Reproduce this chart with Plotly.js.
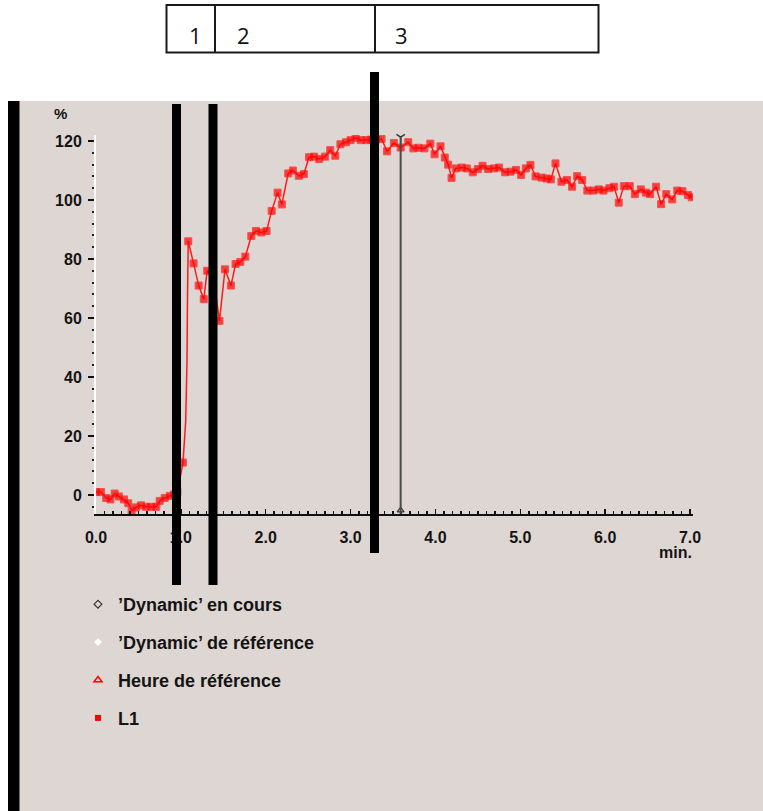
<!DOCTYPE html>
<html>
<head>
<meta charset="utf-8">
<script src="https://cdn.plot.ly/plotly-3.0.1.min.js"></script>
<style>
  html, body { margin: 0; padding: 0; background: #ffffff; }
  #chart { width: 763px; height: 811px; }
</style>
</head>
<body>
<div id="chart"></div>
<script>
// ---- data ----
const minutes = [
  0.00, 0.06, 0.12, 0.17, 0.22, 0.27, 0.33, 0.38, 0.42, 0.47,
  0.53, 0.59, 0.65, 0.71, 0.75, 0.81, 0.87, 0.92, 0.96, 1.025,
  1.057, 1.072, 1.078, 1.087, 1.15, 1.21, 1.27, 1.31, 1.38, 1.455,
  1.52, 1.59, 1.645, 1.70, 1.76, 1.83, 1.885, 1.95, 2.01, 2.07,
  2.14, 2.19, 2.265, 2.32, 2.39, 2.45, 2.51, 2.57, 2.63, 2.70,
  2.76, 2.82, 2.88, 2.945, 3.00, 3.06, 3.12, 3.19, 3.24, 3.30,
  3.365, 3.43, 3.51, 3.59, 3.68, 3.74, 3.80, 3.87, 3.94, 3.99,
  4.06, 4.11, 4.15, 4.19, 4.24, 4.31, 4.37, 4.44, 4.50, 4.555,
  4.62, 4.69, 4.75, 4.82, 4.885, 4.95, 5.01, 5.065, 5.12, 5.18,
  5.25, 5.31, 5.36, 5.415, 5.485, 5.55, 5.61, 5.67, 5.73, 5.79,
  5.86, 5.925, 5.98, 6.05, 6.105, 6.16, 6.22, 6.29, 6.35, 6.42,
  6.48, 6.53, 6.60, 6.66, 6.72, 6.79, 6.85, 6.91, 6.975, 7.02
];
const l1 = [
  1.0, 1.0, -1.0, -1.5, 0.5, -0.5, -1.5, -2.8, -5.3, -4.2,
  -3.5, -4.0, -4.0, -4.0, -2.0, -1.0, -0.3, 0.2, 1.0, 11.0,
  25.0, 45.0, 66.0, 86.0, 78.5, 71.0, 66.4, 76.0, 74.0, 59.0,
  76.5, 71.0, 78.3, 79.0, 80.8, 87.8, 89.5, 89.0, 89.5, 96.3,
  102.5, 98.5, 109.0, 110.0, 108.2, 108.8, 114.5, 114.7, 113.9, 114.7,
  116.9, 115.0, 118.9, 119.6, 120.3, 121.1, 120.3, 120.3, 120.5, 120.5,
  120.7, 116.5, 119.3, 117.8, 119.6, 117.5, 117.7, 117.5, 119.1, 115.5,
  118.2, 114.4, 112.0, 107.5, 110.7, 111.0, 110.7, 109.4, 110.5, 111.6,
  110.5, 110.7, 111.0, 109.4, 109.6, 110.2, 108.5, 110.7, 111.9, 108.0,
  107.6, 107.3, 107.0, 112.4, 106.2, 106.8, 104.5, 108.1, 106.8, 103.2,
  103.2, 103.6, 103.2, 104.0, 104.5, 99.1, 104.7, 104.7, 102.0, 103.6,
  102.5, 102.0, 104.5, 98.6, 102.0, 100.2, 103.2, 103.0, 101.7, 100.9
];
const referenceTime = [3.59];
const legendNames = ["’Dynamic’ en cours", "’Dynamic’ de référence", "Heure de référence", "L1"];
const yTickVals = [0, 20, 40, 60, 80, 100, 120];
const boxLabels = ["1", "2", "3"];

// ---- geometry helpers (pixel -> paper) ----
const W = 763, H = 811, PL = 96, PR = 693, PT = 135, PB = 514;
const px = x => (x - PL) / (PR - PL);
const py = y => (PB - y) / (PB - PT);

const red = '#ff0000';
const dark = '#141414';
const beige = '#ded6d2';
const FONT = 'Liberation Sans, Arial, sans-serif';

// marker sizes: the steep rise is drawn as bare line
const sizes = minutes.map(m => (m > 1.03 && m < 1.085) ? 0 : 7);

const traces = [
  { x: [null], y: [null], mode: 'markers', name: legendNames[0], legendgroup: 'a',
    marker: { symbol: 'diamond-open', size: 6, color: '#333333', line: { width: 1.2 } } },
  { x: [null], y: [null], mode: 'markers', name: legendNames[1], legendgroup: 'b',
    marker: { symbol: 'diamond', size: 6, color: '#ffffff' } },
  { x: [null], y: [null], mode: 'markers', name: legendNames[2], legendgroup: 'c',
    marker: { symbol: 'triangle-up-open', size: 7, color: red, line: { width: 1.5 } } },
  { x: [null], y: [null], mode: 'markers', name: legendNames[3], legendgroup: 'd',
    marker: { symbol: 'square', size: 6, color: red } },
  { x: minutes, y: l1, mode: 'lines+markers', showlegend: false, name: 'L1',
    line: { color: '#ff1a1a', width: 1.5 },
    marker: { symbol: 'square', size: sizes, color: red } },
  { x: referenceTime, y: [121.3], mode: 'markers', showlegend: false, cliponaxis: false,
    marker: { symbol: 'y-down-open', size: 7, color: '#333333', line: { width: 1.3, color: '#333333' } } },
  { x: referenceTime, y: [-5.2], mode: 'markers', showlegend: false, cliponaxis: false,
    marker: { symbol: 'triangle-up-open', size: 6, color: '#333333', line: { width: 1.2 } } }
];

const shapes = [
  // white surround
  { type: 'rect', xref: 'paper', yref: 'paper', x0: px(0), x1: px(W), y0: py(0), y1: py(101),
    fillcolor: '#ffffff', line: { width: 0 }, layer: 'below' },
  { type: 'rect', xref: 'paper', yref: 'paper', x0: px(0), x1: px(8), y0: py(0), y1: py(H),
    fillcolor: '#ffffff', line: { width: 0 }, layer: 'below' },
  // reference time line
  { type: 'line', xref: 'x', yref: 'paper', x0: referenceTime[0], x1: referenceTime[0], y0: 0, y1: py(137),
    line: { color: '#4a4a4a', width: 2 }, layer: 'above' },
  // black bars
  { type: 'rect', xref: 'paper', yref: 'paper', x0: px(8), x1: px(19.5), y0: py(101), y1: py(H),
    fillcolor: '#000000', line: { width: 0 }, layer: 'above' },
  { type: 'rect', xref: 'paper', yref: 'paper', x0: px(172), x1: px(181), y0: py(104), y1: py(585),
    fillcolor: '#000000', line: { width: 0 }, layer: 'above' },
  { type: 'rect', xref: 'paper', yref: 'paper', x0: px(208.5), x1: px(217.5), y0: py(104), y1: py(585),
    fillcolor: '#000000', line: { width: 0 }, layer: 'above' },
  { type: 'rect', xref: 'paper', yref: 'paper', x0: px(370), x1: px(379), y0: py(72), y1: py(553),
    fillcolor: '#000000', line: { width: 0 }, layer: 'above' },
  // top boxes
  { type: 'rect', xref: 'paper', yref: 'paper', x0: px(166.5), x1: px(598.5), y0: py(5), y1: py(52.5),
    fillcolor: 'rgba(0,0,0,0)', line: { color: '#1a1a1a', width: 2 }, layer: 'above' },
  { type: 'line', xref: 'paper', yref: 'paper', x0: px(215), x1: px(215), y0: py(5), y1: py(52.5),
    line: { color: '#1a1a1a', width: 2 }, layer: 'above' },
  { type: 'line', xref: 'paper', yref: 'paper', x0: px(375), x1: px(375), y0: py(5), y1: py(52.5),
    line: { color: '#1a1a1a', width: 2 }, layer: 'above' }
];

const boxLabelX = [195, 243, 401];
const annotations = [
  { xref: 'paper', yref: 'paper', x: px(60), y: py(113), text: '%', showarrow: false,
    xanchor: 'center', yanchor: 'middle', font: { family: FONT, size: 15, weight: 700, color: dark } },
  { xref: 'paper', yref: 'paper', x: px(694), y: py(552), text: 'min.', showarrow: false,
    xanchor: 'right', yanchor: 'middle', font: { family: FONT, size: 16, weight: 700, color: dark } }
].concat(boxLabels.map((t, i) => ({
  xref: 'paper', yref: 'paper', x: px(boxLabelX[i]), y: py(35), text: t, showarrow: false,
  xanchor: 'center', yanchor: 'middle', font: { family: 'Open Sans, Noto Sans, sans-serif', size: 22, color: '#111111' }
})));

const layout = {
  width: W, height: H,
  margin: { l: PL, r: W - PR, t: PT, b: H - PB, pad: 0 },
  paper_bgcolor: beige,
  plot_bgcolor: beige,
  showlegend: true,
  legend: {
    x: px(78), xanchor: 'left', y: py(586), yanchor: 'top',
    bgcolor: 'rgba(0,0,0,0)', borderwidth: 0,
    traceorder: 'grouped', tracegroupgap: 11.5,
    font: { family: FONT, size: 18, weight: 700, color: dark }
  },
  xaxis: {
    range: [0, (PR - PL) / 84.86],
    showgrid: false, zeroline: false,
    showline: true, linecolor: '#111111', linewidth: 2,
    ticks: 'inside', ticklen: 5, tickwidth: 1.5, tickcolor: '#111111',
    tick0: 0, dtick: 1, tickformat: '.1f',
    minor: { ticks: 'inside', ticklen: 3, tickwidth: 1.5, tickcolor: '#111111', dtick: 0.1, tick0: 0, showgrid: false },
    ticklabelstandoff: 8,
    tickfont: { family: FONT, size: 16, weight: 700, color: dark },
    fixedrange: true
  },
  yaxis: {
    range: [-(PB - 495) / 2.95, (495 - PT) / 2.95],
    showgrid: false, zeroline: false,
    showline: true, linecolor: '#ffffff', linewidth: 2,
    ticks: 'outside', ticklen: 6, tickwidth: 2, tickcolor: '#111111',
    tickmode: 'array', tickvals: yTickVals,
    minor: { ticks: 'outside', ticklen: 2, tickwidth: 2, tickcolor: '#222222', dtick: 4, tick0: 0, showgrid: false },
    ticklabelstandoff: 3,
    tickfont: { family: FONT, size: 16, weight: 700, color: dark },
    fixedrange: true
  },
  shapes: shapes,
  annotations: annotations
};

Plotly.newPlot('chart', traces, layout, { displayModeBar: false, staticPlot: true });
</script>
</body>
</html>
